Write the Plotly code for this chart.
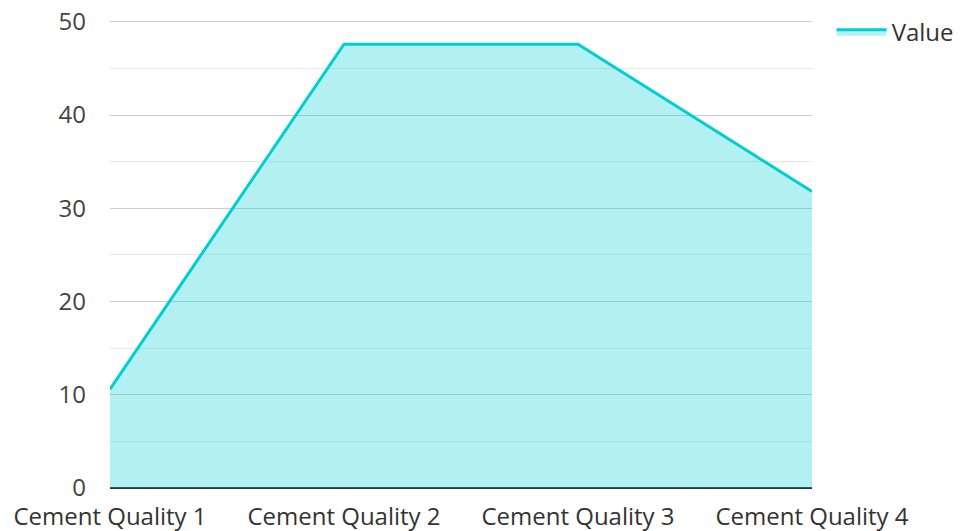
import plotly.graph_objects as go

categories = ["Cement Quality 1", "Cement Quality 2", "Cement Quality 3", "Cement Quality 4"]
values = [10.6, 47.6, 47.6, 31.8]
series_name = "Value"

fig = go.Figure()
fig.add_trace(go.Scatter(
    x=categories, y=values, name=series_name, mode="lines",
    line=dict(color="#00CED1", width=3),
    fill="tozeroy", fillcolor="rgba(0,206,209,0.3)",
))

fig.update_layout(
    width=954, height=523,
    margin=dict(l=102, r=150, t=11, b=43, autoexpand=False),
    paper_bgcolor="white", plot_bgcolor="white",
    font=dict(family="Open Sans", size=24, color="#444"),
    showlegend=True,
    legend=dict(x=1.028, y=1.02, xanchor="left", yanchor="top", itemwidth=50,
                font=dict(size=24, color="#333"), bgcolor="rgba(0,0,0,0)"),
    xaxis=dict(range=[0, 3], showgrid=False, zeroline=False, showline=False, automargin=False,
               ticks="", ticklabelstandoff=12, ticklabeloverflow="allow",
               tickfont=dict(size=24, color="#333")),
    yaxis=dict(range=[0, 50.3], tick0=0, dtick=10, showgrid=True, gridcolor="#cccccc", gridwidth=1,
               zeroline=True, zerolinecolor="#333333", zerolinewidth=2, automargin=False,
               showline=False, ticks="", ticklabelstandoff=23, ticklabeloverflow="allow",
               tickfont=dict(size=24, color="#444"),
               minor=dict(dtick=5, showgrid=True, gridcolor="#e8e8e8", gridwidth=1)),
)

fig.write_html("out.html")
